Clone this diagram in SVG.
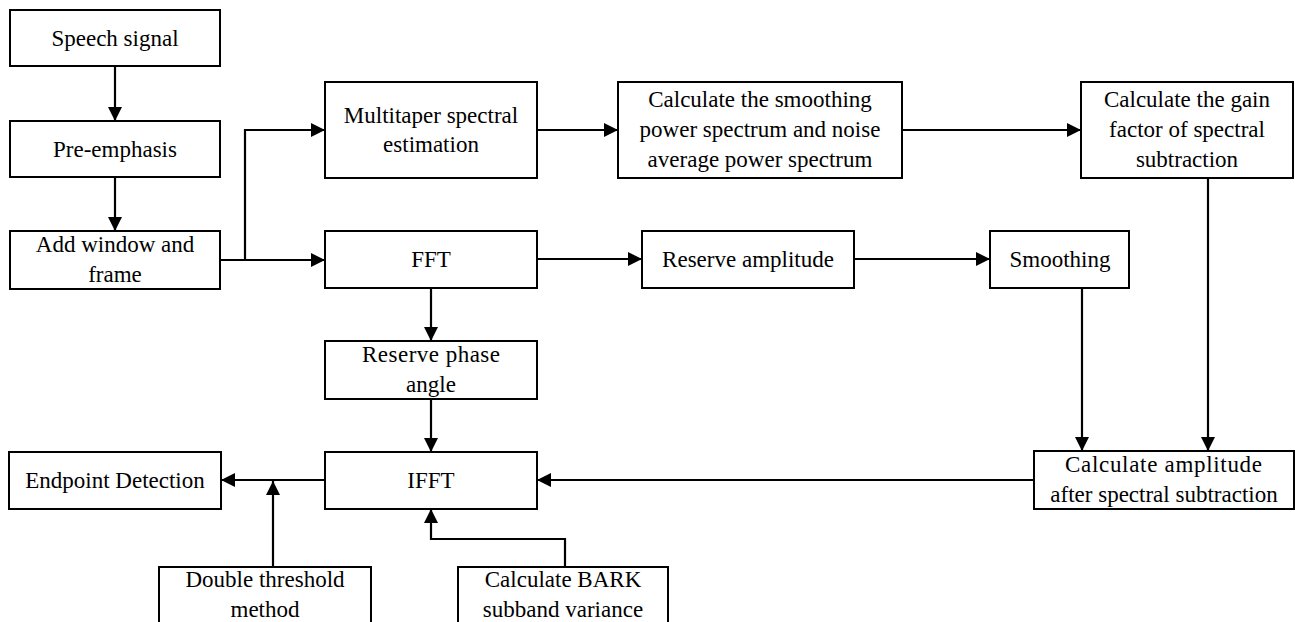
<svg xmlns="http://www.w3.org/2000/svg" width="1295" height="622" viewBox="0 0 1295 622">
<style>
.box{fill:#fff;stroke:#000;stroke-width:2}
.t{font-family:"Liberation Serif","Times New Roman",serif;font-size:23px;fill:#000;text-anchor:middle}
.c{fill:none;stroke:#000;stroke-width:2.2}
</style>
<defs>
<marker id="ah" viewBox="0 0 14 14" refX="14" refY="7" markerWidth="14" markerHeight="14" orient="auto" markerUnits="userSpaceOnUse"><path d="M0,0 L14,7 L0,14 z" fill="#000"/></marker>
</defs>
<rect width="1295" height="622" fill="#fff"/>
<g id="connectors">
<path class="c" d="M115,66 V121" marker-end="url(#ah)"/>
<path class="c" d="M115,177 V231" marker-end="url(#ah)"/>
<path class="c" d="M220,260 H325" marker-end="url(#ah)"/>
<path class="c" d="M245,260 V130 H325" marker-end="url(#ah)"/>
<path class="c" d="M537,130 H618" marker-end="url(#ah)"/>
<path class="c" d="M902,130 H1081" marker-end="url(#ah)"/>
<path class="c" d="M537,259 H642" marker-end="url(#ah)"/>
<path class="c" d="M854,259 H990" marker-end="url(#ah)"/>
<path class="c" d="M431,288 V341" marker-end="url(#ah)"/>
<path class="c" d="M431,399 V452" marker-end="url(#ah)"/>
<path class="c" d="M1082,288 V451" marker-end="url(#ah)"/>
<path class="c" d="M1208,178 V451" marker-end="url(#ah)"/>
<path class="c" d="M1034,480 H537" marker-end="url(#ah)"/>
<path class="c" d="M325,480 H221" marker-end="url(#ah)"/>
<path class="c" d="M273,567 V481" marker-end="url(#ah)"/>
<path class="c" d="M565,567 V539 H431 V509" marker-end="url(#ah)"/>
</g>
<g id="speech"><rect class="box" x="10" y="10" width="210" height="56"/><text class="t" x="115" y="46">Speech signal</text></g>
<g id="preemph"><rect class="box" x="10" y="121" width="210" height="56"/><text class="t" x="115" y="157">Pre-emphasis</text></g>
<g id="window"><rect class="box" x="10" y="231" width="210" height="58"/><text class="t" x="115" y="252">Add window and</text><text class="t" x="115" y="282">frame</text></g>
<g id="multitaper"><rect class="box" x="325" y="82" width="212" height="96"/><text class="t" x="431" y="123">Multitaper spectral</text><text class="t" x="431" y="152">estimation</text></g>
<g id="smoothpower"><rect class="box" x="618" y="82" width="284" height="96"/><text class="t" x="760" y="107">Calculate the smoothing</text><text class="t" x="760" y="137">power spectrum and noise</text><text class="t" x="760" y="167">average power spectrum</text></g>
<g id="gain"><rect class="box" x="1081" y="82" width="212" height="96"/><text class="t" x="1187" y="107">Calculate the gain</text><text class="t" x="1187" y="137">factor of spectral</text><text class="t" x="1187" y="167">subtraction</text></g>
<g id="fft"><rect class="box" x="325" y="231" width="212" height="57"/><text class="t" x="431" y="267">FFT</text></g>
<g id="resamp"><rect class="box" x="642" y="231" width="212" height="57"/><text class="t" x="748" y="267">Reserve amplitude</text></g>
<g id="smoothing"><rect class="box" x="990" y="231" width="139" height="57"/><text class="t" x="1060" y="267">Smoothing</text></g>
<g id="phase"><rect class="box" x="325" y="341" width="212" height="58"/><text class="t" x="362" y="362" style="text-anchor:start" textLength="138" lengthAdjust="spacing">Reserve phase</text><text class="t" x="431" y="392">angle</text></g>
<g id="ifft"><rect class="box" x="325" y="452" width="212" height="57"/><text class="t" x="431" y="488">IFFT</text></g>
<g id="endpoint"><rect class="box" x="9" y="452" width="212" height="57"/><text class="t" x="115" y="488">Endpoint Detection</text></g>
<g id="calcamp"><rect class="box" x="1034" y="451" width="260" height="58"/><text class="t" x="1065" y="472" style="text-anchor:start" textLength="197" lengthAdjust="spacing">Calculate amplitude</text><text class="t" x="1164" y="502">after spectral subtraction</text></g>
<g id="double"><rect class="box" x="159" y="567" width="212" height="80"/><text class="t" x="265" y="587">Double threshold</text><text class="t" x="265" y="617">method</text></g>
<g id="bark"><rect class="box" x="458" y="567" width="210" height="80"/><text class="t" x="563" y="587">Calculate BARK</text><text class="t" x="563" y="617">subband variance</text></g>
</svg>
